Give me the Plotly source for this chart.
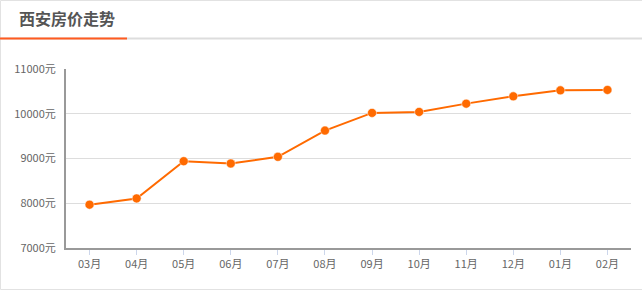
import plotly.graph_objects as go

months = ["03月", "04月", "05月", "06月", "07月", "08月", "09月", "10月", "11月", "12月", "01月", "02月"]
prices = [7968, 8108, 8940, 8889, 9038, 9624, 10019, 10041, 10226, 10389, 10523, 10532]
y_ticks = [7000, 8000, 9000, 10000, 11000]
y_tick_text = [f"{v}元" for v in y_ticks]
title_text = "西安房价走势"

W, H = 642, 291
ML, MR, MT, MB = 66, 11, 69, 43
PW, PH = W - ML - MR, H - MT - MB

def px_x(p):
    return (p - ML) / PW

def px_y(p):
    return (H - MB - p) / PH

orange = "#ff6a00"
font_family = "Noto Sans CJK SC, Noto Sans, sans-serif"

fig = go.Figure()
fig.add_trace(go.Scatter(
    x=months, y=prices, mode="lines+markers",
    line=dict(color=orange, width=2),
    marker=dict(color=orange, size=9, line=dict(color="white", width=0.5)),
    hoverinfo="x+y",
))

shapes = [
    # outer border
    dict(type="rect", xref="paper", yref="paper",
         x0=px_x(0.5), x1=px_x(W + 2), y0=px_y(289.5), y1=px_y(0.5),
         line=dict(color="#e2e2e2", width=1), layer="below"),
    # grey header rule
    dict(type="line", xref="paper", yref="paper",
         x0=px_x(0), x1=px_x(W), y0=px_y(38.5), y1=px_y(38.5),
         line=dict(color="#dddddd", width=2)),
    # orange header accent
    dict(type="line", xref="paper", yref="paper",
         x0=px_x(0), x1=px_x(127), y0=px_y(38.5), y1=px_y(38.5),
         line=dict(color="#ff5a1f", width=2)),
]

fig.update_layout(
    width=W, height=H,
    margin=dict(l=ML, r=MR, t=MT, b=MB, pad=0),
    paper_bgcolor="white", plot_bgcolor="white",
    showlegend=False,
    font=dict(family=font_family, color="#666666", size=11),
    shapes=shapes,
    annotations=[dict(
        text=f"<b>{title_text}</b>", xref="paper", yref="paper",
        x=px_x(17), y=px_y(18), xanchor="left", yanchor="middle",
        showarrow=False, font=dict(size=16, color="#555555", family=font_family),
    )],
    xaxis=dict(
        type="category", range=[-0.5, len(months) - 0.5],
        showgrid=False, zeroline=False,
        showline=True, linecolor="#999999", linewidth=2,
        ticks="outside", ticklen=5, tickcolor="#ccd6eb", tickwidth=1,
        tickfont=dict(size=11, color="#666666"),
        fixedrange=True,
    ),
    yaxis=dict(
        range=[7000, 11000],
        tickvals=y_ticks, ticktext=y_tick_text,
        showgrid=True, gridcolor="#dddddd", gridwidth=1,
        zeroline=False,
        showline=True, linecolor="#999999", linewidth=2,
        ticks="", ticklabelstandoff=6,
        tickfont=dict(size=11, color="#666666"),
        fixedrange=True,
    ),
)

fig.write_html("out.html", config={"displayModeBar": False})
